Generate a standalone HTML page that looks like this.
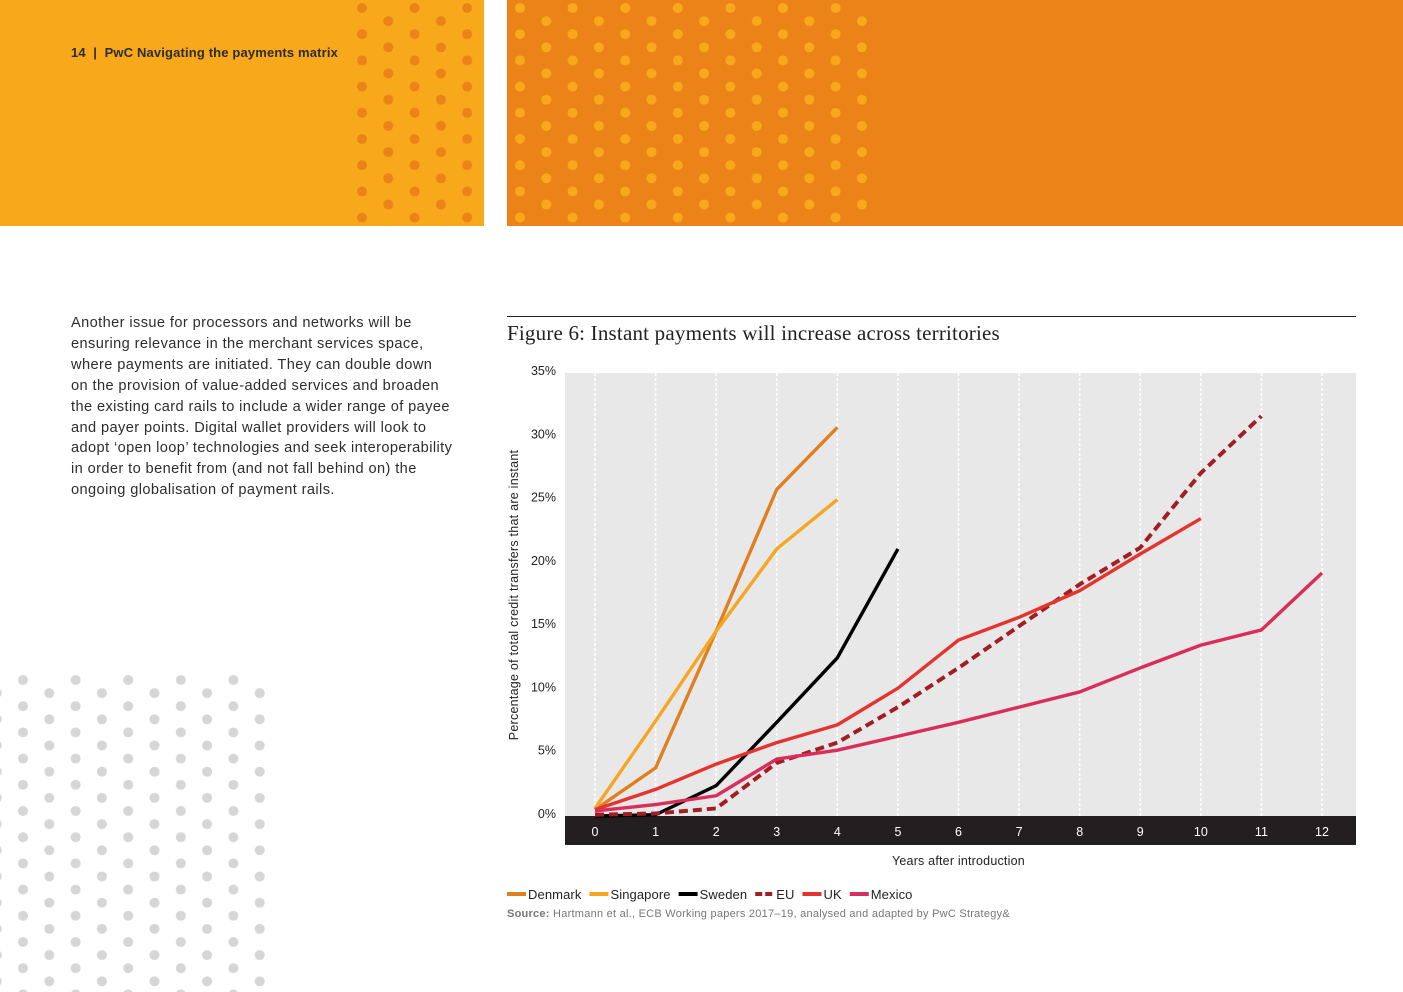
<!DOCTYPE html>
<html><head><meta charset="utf-8"><style>
html,body{margin:0;padding:0;background:#fff;}
body{width:1403px;height:992px;overflow:hidden;position:relative;font-family:"Liberation Sans",sans-serif;}
svg{position:absolute;left:0;top:0;}
.p{position:absolute;left:71px;top:313px;width:420px;white-space:nowrap;font-size:14.6px;line-height:20.9px;letter-spacing:0.4px;color:#2d2d2d;}
</style></head><body>
<svg width="1403" height="992">
<defs>
<pattern id="dy" patternUnits="userSpaceOnUse" width="52.6" height="26.2" x="362" y="8">
<circle cx="0" cy="0" r="5" fill="#EB8319"/><circle cx="52.6" cy="0" r="5" fill="#EB8319"/><circle cx="0" cy="26.2" r="5" fill="#EB8319"/><circle cx="52.6" cy="26.2" r="5" fill="#EB8319"/><circle cx="26.3" cy="13.1" r="5" fill="#EB8319"/></pattern>
<pattern id="do" patternUnits="userSpaceOnUse" width="52.6" height="26.2" x="520" y="8">
<circle cx="0" cy="0" r="5" fill="#F7A81B"/><circle cx="52.6" cy="0" r="5" fill="#F7A81B"/><circle cx="0" cy="26.2" r="5" fill="#F7A81B"/><circle cx="52.6" cy="26.2" r="5" fill="#F7A81B"/><circle cx="26.3" cy="13.1" r="5" fill="#F7A81B"/></pattern>
<pattern id="dg" patternUnits="userSpaceOnUse" width="52.6" height="26.2" x="23" y="680">
<circle cx="0" cy="0" r="5" fill="#d6d6d6"/><circle cx="52.6" cy="0" r="5" fill="#d6d6d6"/><circle cx="0" cy="26.2" r="5" fill="#d6d6d6"/><circle cx="52.6" cy="26.2" r="5" fill="#d6d6d6"/><circle cx="26.3" cy="13.1" r="5" fill="#d6d6d6"/></pattern>
</defs>
<rect x="0" y="0" width="484" height="226" fill="#F7A81B"/>
<rect x="352" y="0" width="132" height="226" fill="url(#dy)"/>
<rect x="507" y="0" width="896" height="226" fill="#EB8319"/>
<rect x="510" y="0" width="360" height="226" fill="url(#do)"/>
<rect x="0" y="672" width="270" height="320" fill="url(#dg)"/>
<text x="71" y="57" font-size="13" font-weight="bold" fill="#2d2d2d" letter-spacing="0.15" xml:space="preserve">14  |  PwC Navigating the payments matrix</text>
<line x1="507" y1="316.5" x2="1356" y2="316.5" stroke="#222" stroke-width="1"/>
<text x="507" y="340" font-family="Liberation Serif,serif" font-size="21" letter-spacing="0.2" fill="#222">Figure 6: Instant payments will increase across territories</text>
<g id="chart"></g>
<text x="892" y="865" font-size="12.5" letter-spacing="0.2" fill="#222">Years after introduction</text>
<text transform="translate(518,595) rotate(-90)" text-anchor="middle" font-size="12.5" letter-spacing="0.25" fill="#222">Percentage of total credit transfers that are instant</text>
<g id="legend"></g>
<text x="507" y="917" font-size="11" letter-spacing="0.25" fill="#777"><tspan font-weight="bold">Source:</tspan> Hartmann et al., ECB Working papers 2017–19, analysed and adapted by PwC Strategy&amp;</text>
</svg>
<div class="p">Another issue for processors and networks will be<br>ensuring relevance in the merchant services space,<br>where payments are initiated. They can double down<br>on the provision of value-added services and broaden<br>the existing card rails to include a wider range of payee<br>and payer points. Digital wallet providers will look to<br>adopt ‘open loop’ technologies and seek interoperability<br>in order to benefit from (and not fall behind on) the<br>ongoing globalisation of payment rails.</div>
<script>
const years=[0,1,2,3,4,5,6,7,8,9,10,11,12];
const yTicks=[0,5,10,15,20,25,30,35];
const seriesNames=["Denmark","Singapore","Sweden","EU","UK","Mexico"];
const denmark=[0.5,3.8,14.6,25.8,30.7];
const singapore=[0.6,7.5,14.6,21.1,25.0];
const sweden=[0,0.1,2.4,7.4,12.5,21.1];
const eu=[0.1,0.2,0.6,4.2,5.8,8.6,11.7,15.0,18.3,21.2,27.1,31.6];
const uk=[0.5,2.1,4.1,5.8,7.2,10.1,13.9,15.7,17.8,20.7,23.5];
const mexico=[0.4,0.9,1.6,4.5,5.2,6.3,7.4,8.6,9.8,11.7,13.5,14.7,19.2];
const NS="http://www.w3.org/2000/svg";
const X=v=>595+v*(1322-595)/12;
const Y=v=>816-v*(816-373)/35;
const g=document.getElementById('chart');
function mk(t,a,p){const e=document.createElementNS(NS,t);for(const k in a)e.setAttribute(k,a[k]);(p||g).appendChild(e);return e;}
let bg=mk('rect',{x:565,y:373,width:791,height:443,fill:'#e8e8e8'});


let band=mk('rect',{x:565,y:816,width:791,height:29,fill:'#231f20'});


years.forEach(v=>{
 let l=mk('line',{x1:X(v),x2:X(v),y1:373,y2:816,stroke:'#fff','stroke-width':1.5,'stroke-dasharray':'3 2'});
 
 
 let t=mk('text',{x:X(v),y:836,'text-anchor':'middle','font-size':12.5,fill:'#fff'});t.textContent=v;
 
 
});
yTicks.forEach(v=>{
 let t=mk('text',{x:556,y:Y(v)+2,'text-anchor':'end','font-size':12.5,fill:'#222'});t.textContent=v+'%';
 
 
});
const data=[denmark,singapore,sweden,eu,uk,mexico];
const colors=['#E07F1F','#F5A623','#000000','#A01F24','#E3342F','#D92D5C'];
const dashes=[null,null,null,'9 5',null,null];
data.forEach((d,i)=>{
 let p=mk('polyline',{points:d.map((v,j)=>X(years[j])+','+Y(v)).join(' '),fill:'none',stroke:colors[i],'stroke-width':dashes[i]?4:3.4,'stroke-linejoin':'round'});
 if(dashes[i])p.setAttribute('stroke-dasharray',dashes[i]);
 
 
});
const lg=document.getElementById('legend');
let lx=507;
seriesNames.forEach((n,i)=>{
 let l=mk('line',{x1:lx,x2:lx+19,y1:894,y2:894,stroke:colors[i],'stroke-width':4,'stroke-dasharray':dashes[i]?'7 3':'none'},lg);
 
 
 let t=mk('text',{x:lx+21,y:899,'font-size':13,'letter-spacing':0.1,fill:'#222'},lg);t.textContent=n;
 
 
 lx+=21+t.getComputedTextLength()+8;
});
</script>
</body></html>
